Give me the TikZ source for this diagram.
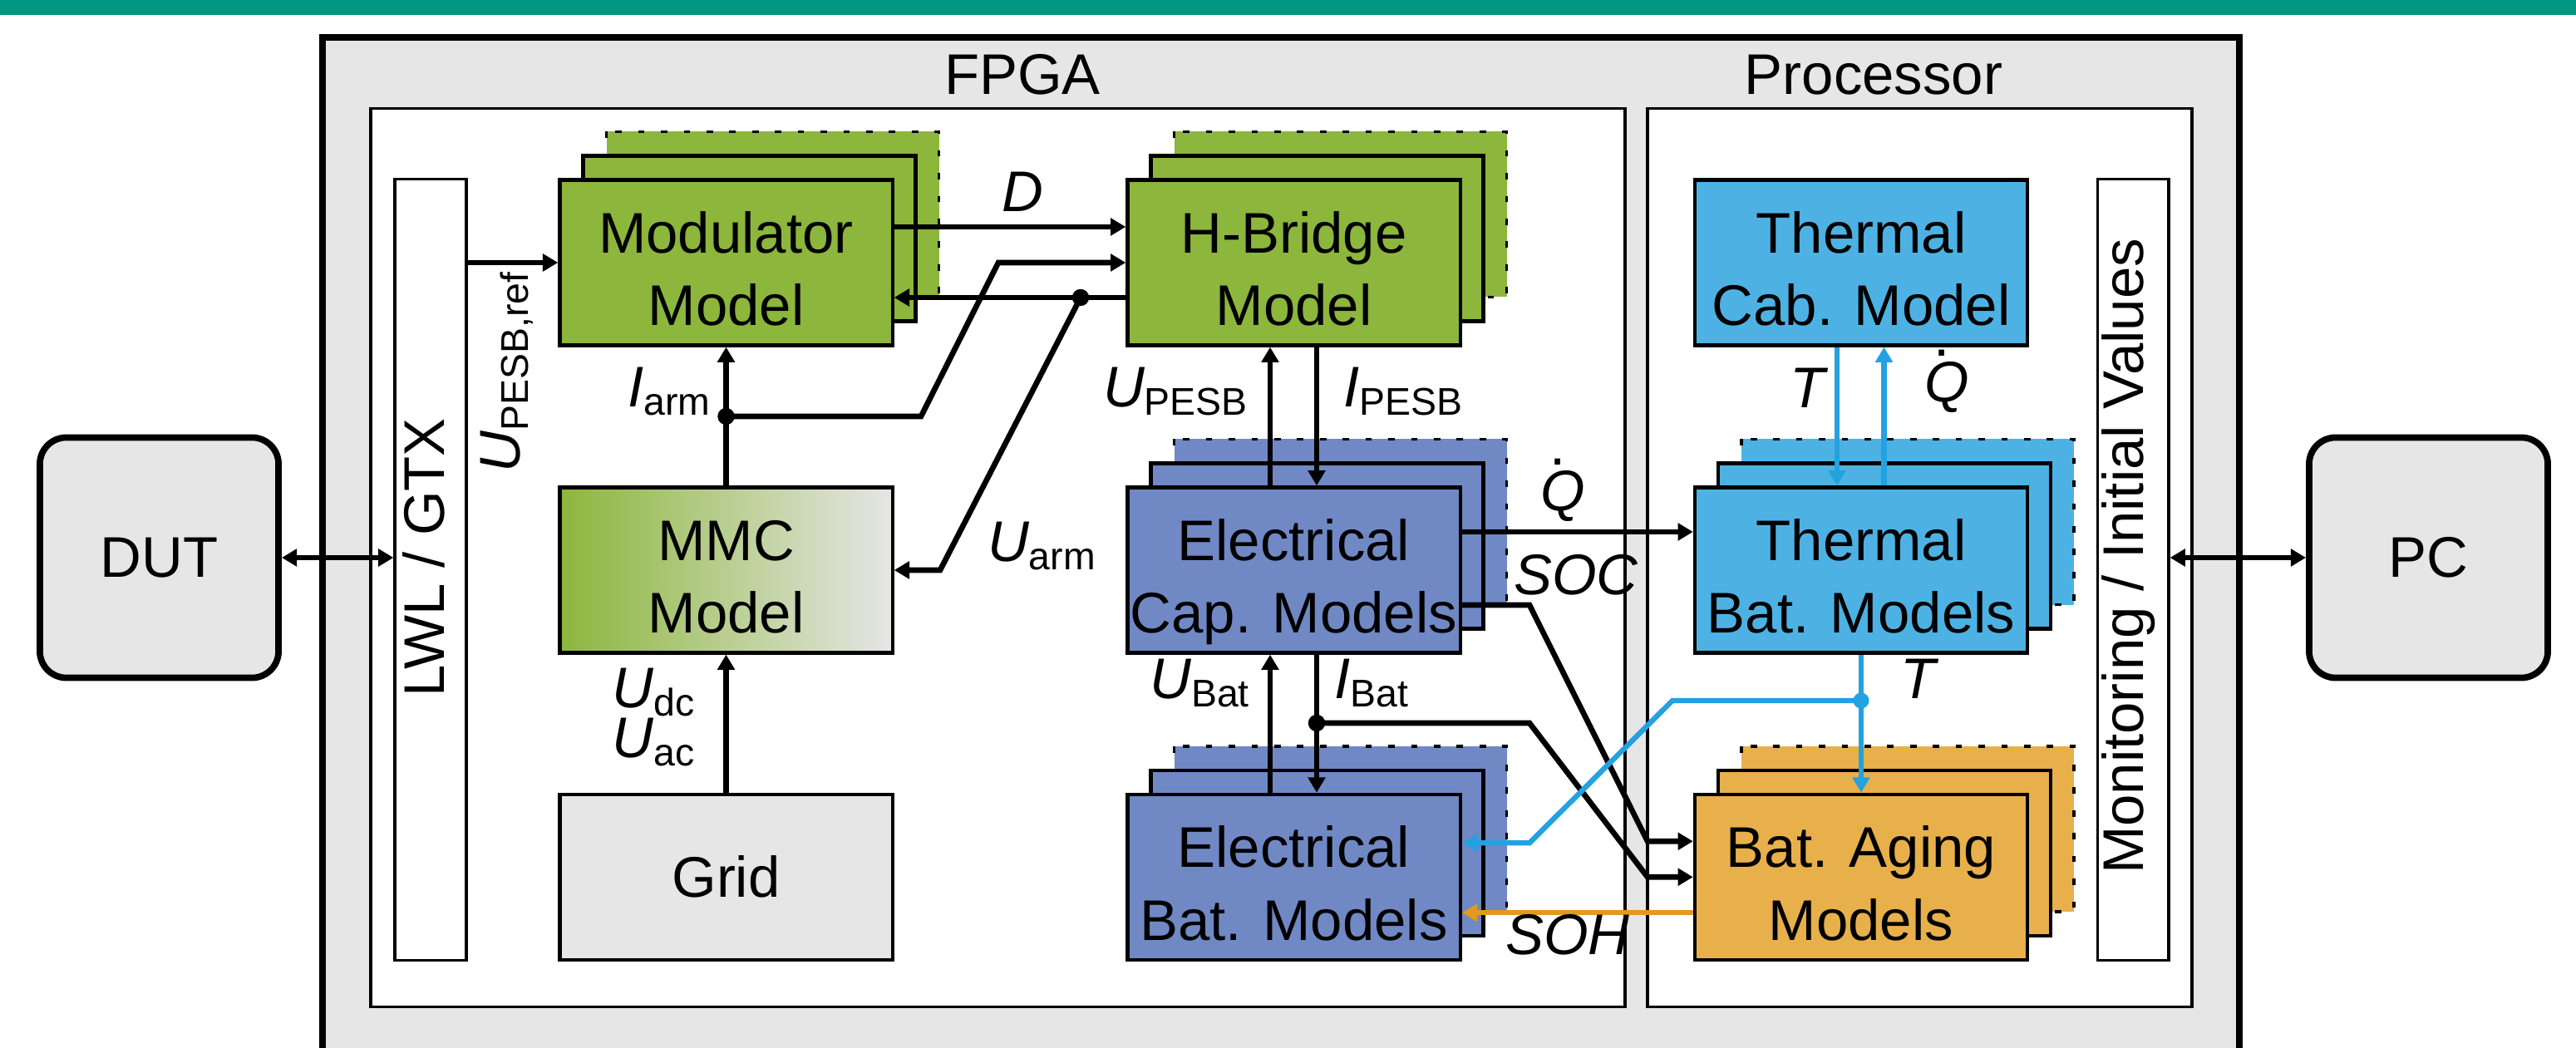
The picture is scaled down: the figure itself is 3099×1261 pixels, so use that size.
\documentclass[tikz,border=0pt]{standalone}
\usepackage{fontspec}
\setmainfont{Liberation Sans}
\usetikzlibrary{arrows.meta}
\definecolor{kitteal}{HTML}{009682}
\definecolor{gbg}{HTML}{E6E6E6}
\definecolor{cgreen}{HTML}{8CB63C}
\definecolor{cblue}{HTML}{7088C4}
\definecolor{ccyan}{HTML}{4DB2E3}
\definecolor{corange}{HTML}{E8B04B}
\definecolor{acyan}{HTML}{23A1E0}
\definecolor{aorange}{HTML}{DF9B1B}
\newcommand{\vsub}[2]{\textit{#1}\raisebox{-2.8pt}{\fontsize{13.2}{14}\selectfont\upshape #2}}
\newcommand{\qdot}{\makebox[0pt][l]{\hspace{0.17em}\raisebox{0.8em}{\upshape .}}\textit{Q}}
\newcommand{\toprl}{\rule{0pt}{0.79cm}}
\newcommand{\botrl}{\rule[-0.15cm]{0pt}{0.15cm}}
% stacked layers behind a front box centred at (#1,#2)
\newcommand{\modstack}[3]{%
  \filldraw[fill=#3, draw=black, line width=1.1pt, dash pattern=on 2.2pt off 5.6pt]
    (#1-200+56,#2-99.5-58) rectangle (#1+200+56,#2+99.5-58);
  \filldraw[fill=#3, draw=black, line width=1.2pt]
    (#1-200+28,#2-99.5-29) rectangle (#1+200+28,#2+99.5-29);}
\begin{document}
\begin{tikzpicture}[x=0.01cm,y=-0.01cm,
  txt/.style={font=\fontsize{19.6}{25}\selectfont, inner sep=0pt},
  lab/.style={font=\fontsize{19.6}{22}\selectfont\itshape, inner sep=0pt},
  mbox/.style={draw=black, line width=1.2pt, minimum width=4cm, minimum height=1.99cm,
    inner sep=0pt, align=center, font=\fontsize{19.6}{25}\selectfont},
  slim/.style={draw=black, line width=0.9pt, fill=white, minimum width=0.86cm,
    minimum height=9.4cm, inner sep=0pt},
  ext/.style={draw=black, line width=2.2pt, rounded corners=0.32cm, fill=gbg,
    minimum width=2.87cm, minimum height=2.89cm, inner sep=0pt,
    font=\fontsize{19.6}{25}\selectfont},
  arr/.style={line width=1.9pt, -{Triangle[length=5.2pt,width=5.8pt]}},
  dblarr/.style={line width=1.9pt, {Triangle[length=5.2pt,width=5.8pt]}-{Triangle[length=5.2pt,width=5.8pt]}},
  barr/.style={arr, draw=acyan, line width=1.8pt},
  oarr/.style={arr, draw=aorange, line width=1.8pt}]
\useasboundingbox (0,0) rectangle (3099,1261);
\clip (0,0) rectangle (3099,1261);
\fill[white] (0,0) rectangle (3099,1261);
\fill[kitteal] (0,0) rectangle (3099,18.4);
% outer system box
\filldraw[fill=gbg, draw=black, line width=2.3pt] (388,45) rectangle (2693.6,1330);
\filldraw[fill=white, draw=black, line width=1pt] (446,130.6) rectangle (1955,1211.6);
\filldraw[fill=white, draw=black, line width=1pt] (1982,130.6) rectangle (2637,1211.6);
\node[txt] (fpgat) at (1230,90) {FPGA};
\node[txt] (proct) at (2254,90) {Processor};
% interface bars
\node[slim] (lwl) at (518,685.5) {};
\node[txt, rotate=90] (lwlt) at (510,671) {LWL / GTX};
\node[slim, minimum width=0.854cm] (mon) at (2566.3,685.5) {};
\node[txt, rotate=90] (mont) at (2561,669.5) {Monitoring / Initial Values};
% external boxes
\node[ext] (dut) at (191.5,671) {DUT};
\node[ext] (pc) at (2921.5,671) {PC};
% model boxes
\modstack{873.5}{316}{cgreen}
\node[mbox, fill=cgreen] (mod) at (873.5,316) {\toprl Modulator\\Model\botrl};
\modstack{1556.5}{316}{cgreen}
\node[mbox, fill=cgreen] (hb) at (1556.5,316) {\toprl H-Bridge\\Model\botrl};
\node[mbox, left color=cgreen, right color=gbg] (mmc) at (873.5,686) {\toprl MMC\\Model\botrl};
\node[mbox, fill=gbg] (grid) at (873.5,1055.3) {Grid};
\modstack{1556.5}{686}{cblue}
\node[mbox, fill=cblue] (cap) at (1556.5,686) {\toprl Electrical\\Cap. Models\botrl};
\modstack{1556.5}{1055.3}{cblue}
\node[mbox, fill=cblue] (ebat) at (1556.5,1055.3) {\toprl Electrical\\Bat. Models\botrl};
\node[mbox, fill=ccyan] (tcab) at (2239,316) {\toprl Thermal\\Cab. Model\botrl};
\modstack{2239}{686}{ccyan}
\node[mbox, fill=ccyan] (tbat) at (2239,686) {\toprl Thermal\\Bat. Models\botrl};
\modstack{2239}{1055.3}{corange}
\node[mbox, fill=corange] (aging) at (2239,1055.3) {\toprl Bat. Aging\\Models\botrl};
% bend points and junctions
\coordinate (iarm) at (873.5,501);
\coordinate (b1) at (1108,501);
\coordinate (b2) at (1201,316);
\coordinate (uarm) at (1300,358);
\coordinate (b3) at (1131,686);
\coordinate (s1) at (1840,728);
\coordinate (s2) at (1982,1012.3);
\coordinate (ibat) at (1584,870);
\coordinate (i1) at (1840,870);
\coordinate (i2) at (1982,1055.3);
\coordinate (tdot) at (2239,843);
\coordinate (t1) at (2012,843);
\coordinate (t2) at (1840,1014.3);
% connectors
\draw[dblarr] (dut.east) -- (lwl.west |- dut.east);
\draw[dblarr] (mon.east |- pc.west) -- (pc.west);
\draw[arr] (lwl.east |- mod.west) -- (mod.west);
\draw[arr] ([yshift=0.43cm]mod.east) -- ([yshift=0.43cm]hb.west);
\draw[arr] (mmc.north) -- (mod.south);
\draw[arr] (iarm) -- (b1) -- (b2) -- (hb.west);
\draw[arr] ([yshift=-0.42cm]hb.west) -- ([yshift=-0.42cm]mod.east);
\draw[arr] (uarm) -- (b3) -- (mmc.east);
\draw[arr] (grid.north) -- (mmc.south);
\draw[arr] ([xshift=-0.285cm]cap.north) -- ([xshift=-0.285cm]hb.south);
\draw[arr] ([xshift=0.275cm]hb.south) -- ([xshift=0.275cm]cap.north);
\draw[arr] ([xshift=-0.285cm]ebat.north) -- ([xshift=-0.285cm]cap.south);
\draw[arr] ([xshift=0.275cm]cap.south) -- ([xshift=0.275cm]ebat.north);
\draw[arr] ([yshift=0.46cm]cap.east) -- ([yshift=0.46cm]tbat.west);
\draw[arr] ([yshift=-0.42cm]cap.east) -- (s1) -- (s2) -- ([yshift=0.43cm]aging.west);
\draw[arr] (ibat) -- (i1) -- (i2) -- (aging.west);
\draw[barr] ([xshift=-0.29cm]tcab.south) -- ([xshift=-0.29cm]tbat.north);
\draw[barr] ([xshift=0.275cm]tbat.north) -- ([xshift=0.275cm]tcab.south);
\draw[barr] (tbat.south) -- (aging.north);
\draw[barr] (tdot) -- (t1) -- (t2) -- ([yshift=0.41cm]ebat.east);
\draw[oarr] ([yshift=-0.43cm]aging.west) -- ([yshift=-0.43cm]ebat.east);
\fill (iarm) circle (2.9pt);
\fill (uarm) circle (2.9pt);
\fill (ibat) circle (2.9pt);
\fill[acyan] (tdot) circle (2.7pt);
% labels
\node[lab, rotate=90] (lref) at (610,448) {\vsub{U}{PESB,ref}};
\node[lab] (ld) at (1230,231) {D};
\node[lab] (liarm) at (805,471) {\vsub{I}{arm}};
\node[lab] (luarm) at (1253,657) {\vsub{U}{arm}};
\node[lab] (lupesb) at (1414,471) {\vsub{U}{PESB}};
\node[lab] (lipesb) at (1688,471) {\vsub{I}{PESB}};
\node[lab] (lq1) at (1880,590) {\qdot};
\node[lab] (lsoc) at (1896,692) {SOC};
\node[lab] (lubat) at (1443,822) {\vsub{U}{Bat}};
\node[lab] (libat) at (1650,822) {\vsub{I}{Bat}};
\node[lab] (lt1) at (2175,467) {T};
\node[lab] (lq2) at (2342,459) {\qdot};
\node[lab] (lt2) at (2308,817) {T};
\node[lab] (lsoh) at (1886,1125) {SOH};
\node[lab] (ludc) at (786,833) {\vsub{U}{dc}};
\node[lab] (luac) at (786,893) {\vsub{U}{ac}};
\end{tikzpicture}
\end{document}
